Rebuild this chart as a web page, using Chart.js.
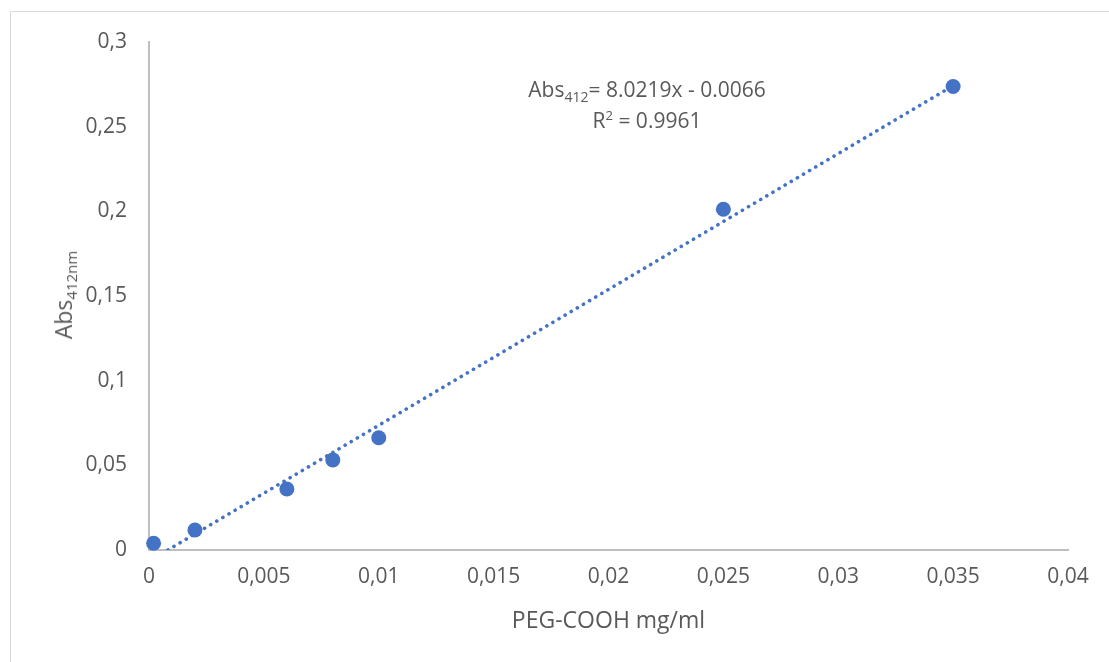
<!DOCTYPE html>
<html><head><meta charset="utf-8">
<script src="https://cdn.jsdelivr.net/npm/chart.js@4.4.0/dist/chart.umd.min.js"></script>
<style>
html,body{margin:0;padding:0;background:#fff;overflow:hidden;width:1109px;height:662px;}
#frame{position:absolute;left:10px;top:11px;width:1200px;height:800px;border:1.5px solid #d9d9d9;box-sizing:border-box;}
#wrap{position:absolute;left:0;top:0;width:1109px;height:662px;}
.txt{position:absolute;font-family:"Open Sans",sans-serif;color:#595959;font-size:21px;white-space:nowrap;}
.txt sub{font-size:14px;vertical-align:-5px;line-height:0;}
.txt sup{font-size:13px;vertical-align:8px;line-height:0;}
#eq{left:527px;top:74px;width:240px;text-align:center;line-height:31px;}
#ytitle{left:63px;top:295px;font-size:23px;transform:translate(-50%,-50%) rotate(-90deg);}
#ytitle sub{font-size:15px;}
</style></head>
<body>
<div id="frame"></div>
<div id="wrap"><canvas id="c" width="1109" height="662"></canvas></div>
<div class="txt" id="eq">Abs<sub>412</sub>= 8.0219x - 0.0066<br>R<sup>2</sup> = 0.9961</div>
<div class="txt" id="ytitle">Abs<sub>412nm</sub></div>
<script>
const concentration = [0.0002, 0.002, 0.006, 0.008, 0.010, 0.025, 0.035];
const absorbance = [0.004, 0.0118, 0.036, 0.0532, 0.0663, 0.2012, 0.2737];
const trendX = [0.00082, 0.035];
const trendY = [0.0, 0.2742];
const xTicks = [0, 0.005, 0.01, 0.015, 0.02, 0.025, 0.03, 0.035, 0.04];
const yTicks = [0, 0.05, 0.1, 0.15, 0.2, 0.25, 0.3];
const xTitle = 'PEG-COOH mg/ml';

const fmt = v => String(+v.toFixed(4)).replace('.', ',');
const txtColor = '#595959';
const axisColor = '#bfbfbf';
const tickFont = {family: '"Open Sans", sans-serif', size: 21};
const titleFont = {family: '"Open Sans", sans-serif', size: 23};

new Chart(document.getElementById('c'), {
  type: 'scatter',
  data: {
    datasets: [
      {
        label: 'data',
        data: concentration.map((x, i) => ({x, y: absorbance[i]})),
        backgroundColor: '#4472C4',
        borderColor: '#4472C4',
        pointRadius: 7.5,
        pointHoverRadius: 7.5,
        borderWidth: 0,
        clip: false,
        order: 2
      },
      {
        type: 'line',
        label: 'trend',
        data: trendX.map((x, i) => ({x, y: trendY[i]})),
        borderColor: '#4472C4',
        borderWidth: 3.6,
        borderDash: [0.1, 7],
        borderCapStyle: 'round',
        pointRadius: 0,
        fill: false,
        order: 1
      }
    ]
  },
  options: {
    responsive: false,
    animation: false,
    events: [],
    layout: {padding: {left: 0, top: 42, right: 41, bottom: 0}},
    plugins: {legend: {display: false}, tooltip: {enabled: false}},
    scales: {
      x: {
        type: 'linear', min: 0, max: 0.04,
        afterBuildTicks: s => { s.ticks = xTicks.map(v => ({value: v})); },
        afterFit: s => { s.height = 112; },
        grid: {display: false, drawTicks: false},
        border: {display: true, color: axisColor, width: 2},
        ticks: {color: txtColor, font: tickFont, padding: 14, maxRotation: 0, autoSkip: false, callback: v => fmt(v)},
        title: {display: true, text: xTitle, color: txtColor, font: titleFont, padding: {top: 0, bottom: 27}}
      },
      y: {
        type: 'linear', min: 0, max: 0.3,
        afterBuildTicks: s => { s.ticks = yTicks.map(v => ({value: v})); },
        afterFit: s => { s.width = 149; },
        grid: {display: false, drawTicks: false},
        border: {display: true, color: axisColor, width: 2},
        ticks: {color: txtColor, font: tickFont, padding: 22, autoSkip: false, callback: v => fmt(v)}
      }
    }
  }
});
</script>
</body></html>
